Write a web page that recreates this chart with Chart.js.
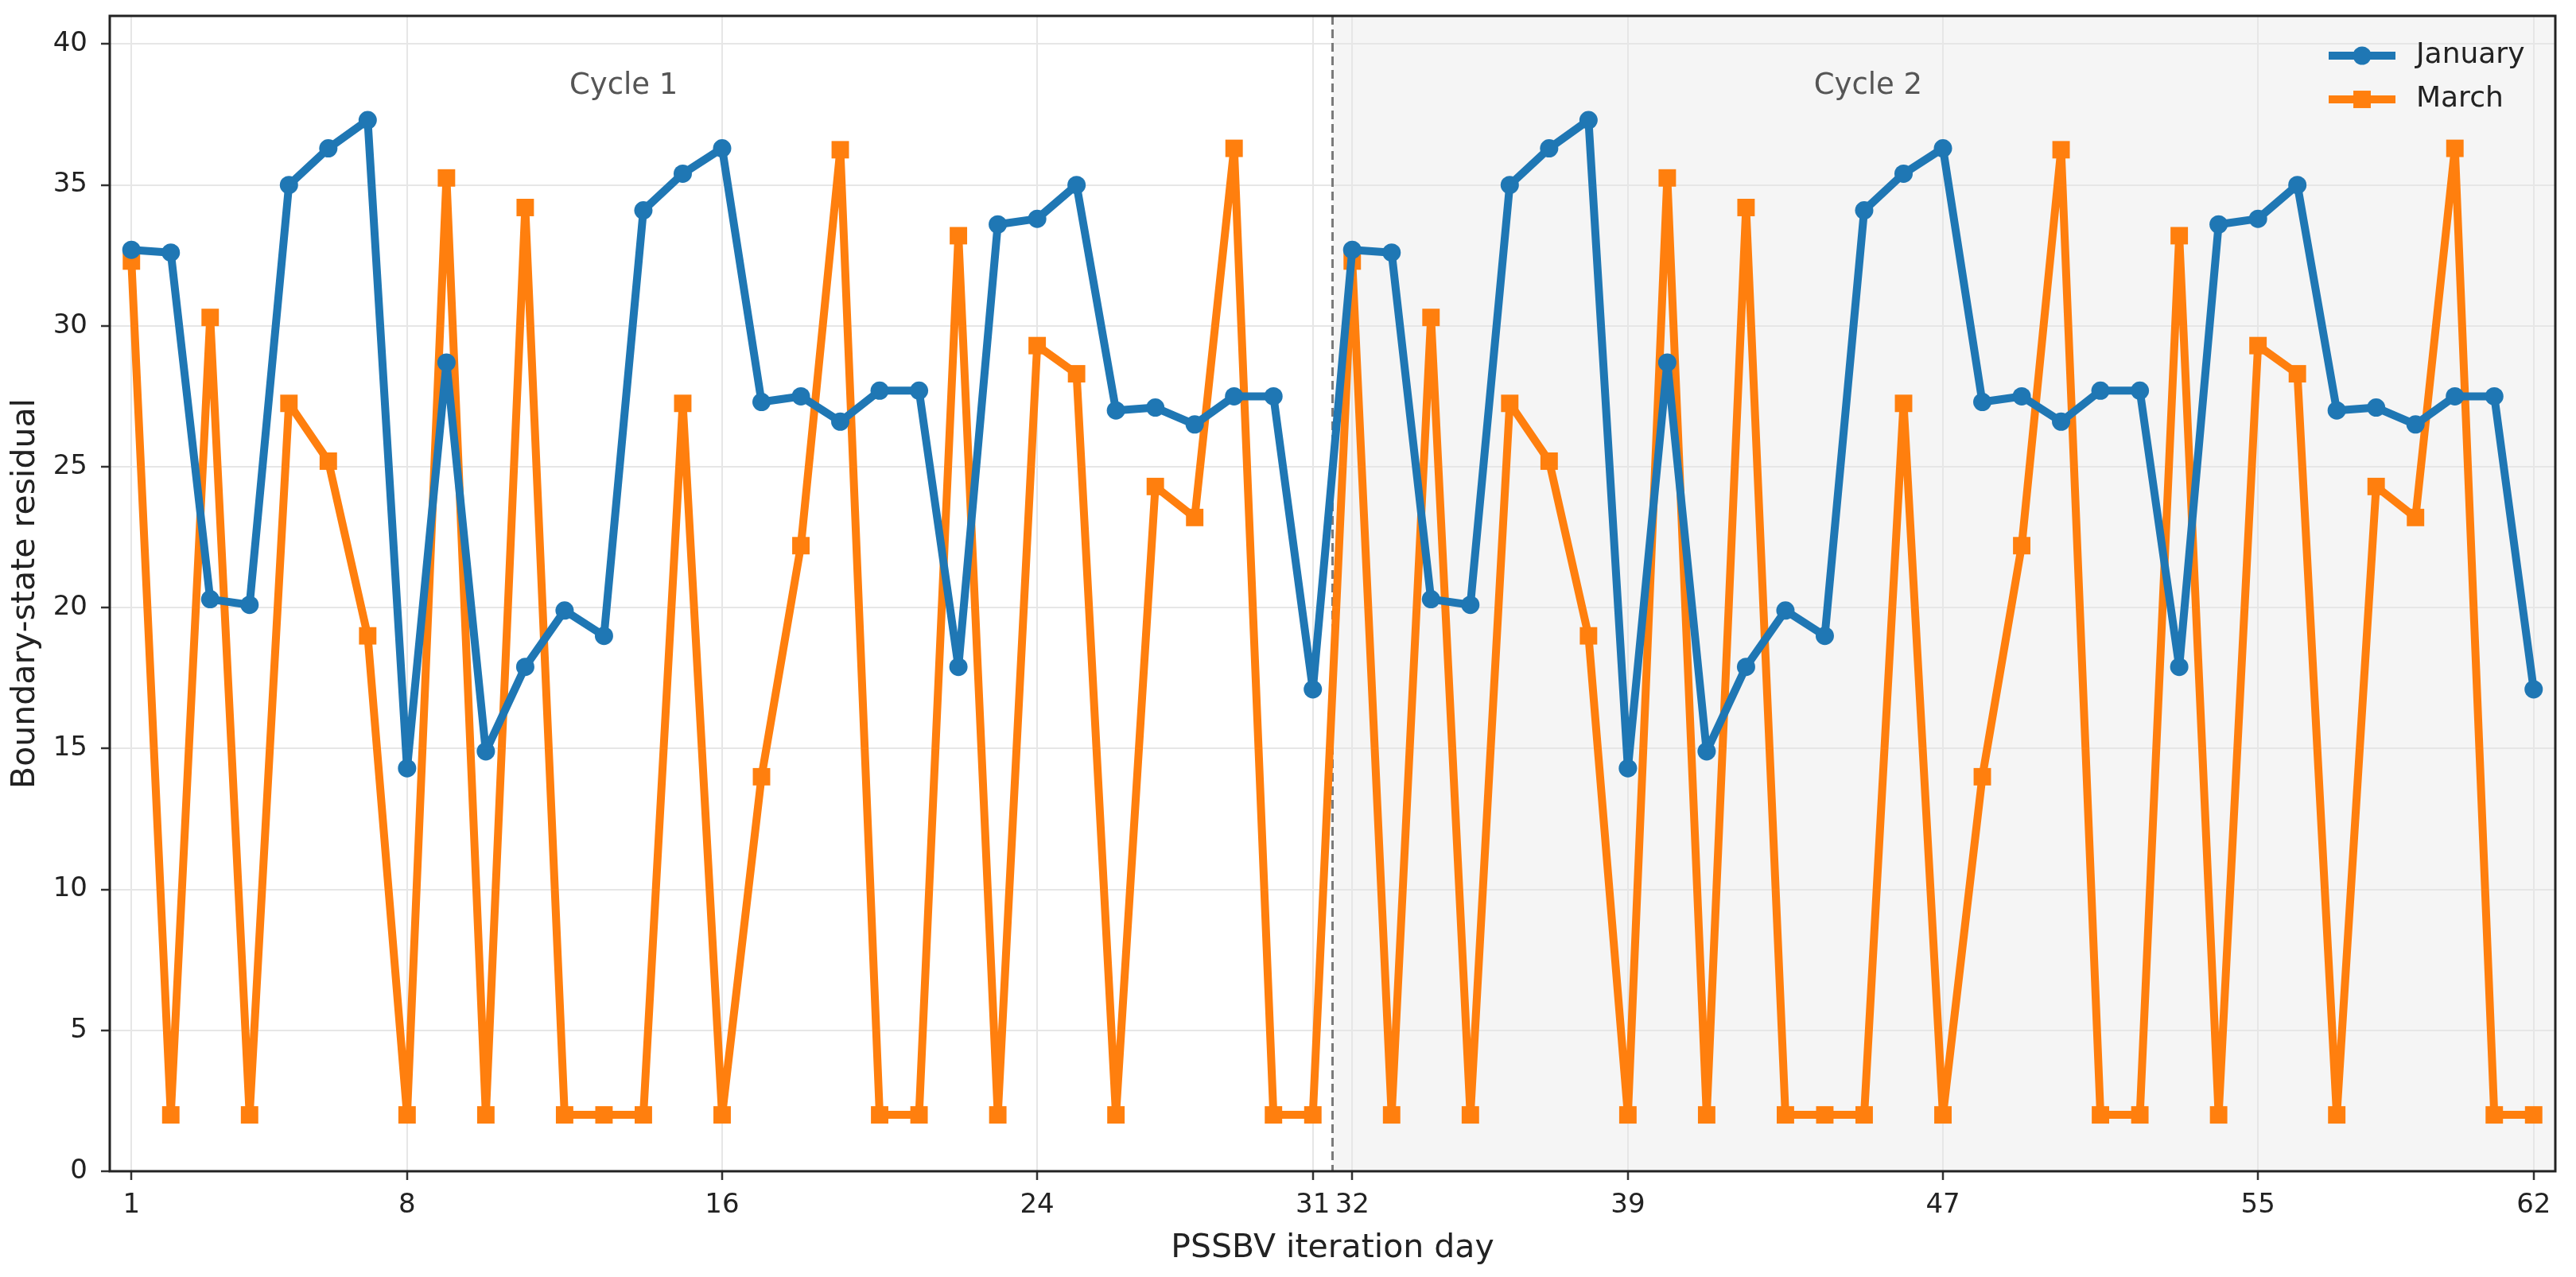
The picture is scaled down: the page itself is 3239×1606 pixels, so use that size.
<!DOCTYPE html>
<html>
<head>
<meta charset="utf-8">
<script src="https://cdn.jsdelivr.net/npm/chart.js@4.4.1/dist/chart.umd.min.js"></script>
<style>
  html, body { margin: 0; padding: 0; background: #fff; }
  #wrap { width: 3239px; height: 1606px; }
</style>
</head>
<body>
<div id="wrap"><canvas id="residualChart" width="3239" height="1606"></canvas></div>
<script>
// iteration days, two cycles of 31
const days = [1, 2, 3, 4, 5, 6, 7, 8, 9, 10, 11, 12, 13, 14, 15, 16, 17, 18, 19, 20, 21, 22, 23, 24, 25, 26, 27, 28, 29, 30, 31,
              32, 33, 34, 35, 36, 37, 38, 39, 40, 41, 42, 43, 44, 45, 46, 47, 48, 49, 50, 51, 52, 53, 54, 55, 56, 57, 58, 59, 60, 61, 62];

const january = [32.7, 32.6, 20.3, 20.1, 35.0, 36.3, 37.3, 14.3, 28.7, 14.9, 17.9, 19.9, 19.0, 34.1, 35.4, 36.3,
                 27.3, 27.5, 26.6, 27.7, 27.7, 17.9, 33.6, 33.8, 35.0, 27.0, 27.1, 26.5, 27.5, 27.5, 17.1,
                 32.7, 32.6, 20.3, 20.1, 35.0, 36.3, 37.3, 14.3, 28.7, 14.9, 17.9, 19.9, 19.0, 34.1, 35.4, 36.3,
                 27.3, 27.5, 26.6, 27.7, 27.7, 17.9, 33.6, 33.8, 35.0, 27.0, 27.1, 26.5, 27.5, 27.5, 17.1];

const march = [32.3, 2.0, 30.3, 2.0, 27.25, 25.2, 19.0, 2.0, 35.25, 2.0, 34.2, 2.0, 2.0, 2.0, 27.25, 2.0,
               14.0, 22.2, 36.25, 2.0, 2.0, 33.2, 2.0, 29.3, 28.3, 2.0, 24.3, 23.2, 36.3, 2.0, 2.0,
               32.3, 2.0, 30.3, 2.0, 27.25, 25.2, 19.0, 2.0, 35.25, 2.0, 34.2, 2.0, 2.0, 2.0, 27.25, 2.0,
               14.0, 22.2, 36.25, 2.0, 2.0, 33.2, 2.0, 29.3, 28.3, 2.0, 24.3, 23.2, 36.3, 2.0, 2.0];

const xTicks = [1, 8, 16, 24, 31, 32, 39, 47, 55, 62];
const yTicks = [0, 5, 10, 15, 20, 25, 30, 35, 40];

const cycleNames = ['Cycle 1', 'Cycle 2'];
const cycleNameX = [13.5, 45.1];
const cycleNameY = 38.5;
const cycleSplit = 31.5;

const FONT = "'DejaVu Sans', 'Liberation Sans', sans-serif";

// grey band behind the second cycle, under the grid
const shadePlugin = {
  id: 'shade',
  beforeDraw(chart) {
    const { ctx, chartArea: a, scales: { x } } = chart;
    const x0 = x.getPixelForValue(cycleSplit);
    ctx.save();
    ctx.fillStyle = '#f5f5f5';
    ctx.fillRect(x0, a.top, a.right - x0, a.bottom - a.top);
    ctx.restore();
  }
};

// dashed divider and cycle captions
const cyclePlugin = {
  id: 'cycles',
  beforeDatasetsDraw(chart) {
    const { ctx, chartArea: a, scales: { x, y } } = chart;
    const xs = x.getPixelForValue(cycleSplit);
    ctx.save();
    ctx.strokeStyle = '#7a7a7a';
    ctx.lineWidth = 3;
    ctx.setLineDash([11, 6]);
    ctx.beginPath();
    ctx.moveTo(xs, a.top);
    ctx.lineTo(xs, a.bottom);
    ctx.stroke();
    ctx.setLineDash([]);
    ctx.fillStyle = '#555555';
    ctx.font = '37px ' + FONT;
    ctx.textAlign = 'center';
    ctx.textBaseline = 'middle';
    cycleNames.forEach((t, i) => {
      ctx.fillText(t, x.getPixelForValue(cycleNameX[i]), y.getPixelForValue(cycleNameY));
    });
    ctx.restore();
  }
};

// box frame and legend inside the upper right corner
const framePlugin = {
  id: 'frame',
  afterDatasetsDraw(chart) {
    const { ctx, chartArea: a } = chart;
    ctx.save();
    ctx.strokeStyle = '#222222';
    ctx.lineWidth = 3;
    ctx.strokeRect(a.left, a.top, a.right - a.left, a.bottom - a.top);

    chart.data.datasets.forEach((ds, i) => {
      const cy = a.top + 50 + i * 55;
      const lx0 = a.right - 285;
      const lx1 = a.right - 201;
      const cx = (lx0 + lx1) / 2;
      ctx.strokeStyle = ds.borderColor;
      ctx.lineWidth = ds.borderWidth;
      ctx.beginPath();
      ctx.moveTo(lx0, cy);
      ctx.lineTo(lx1, cy);
      ctx.stroke();
      ctx.fillStyle = ds.pointBackgroundColor;
      ctx.beginPath();
      if (ds.pointStyle === 'rect') {
        const s = ds.pointRadius * Math.SQRT1_2;
        ctx.rect(cx - s, cy - s, 2 * s, 2 * s);
      } else {
        ctx.arc(cx, cy, ds.pointRadius, 0, Math.PI * 2);
      }
      ctx.fill();
      ctx.fillStyle = '#222222';
      ctx.font = '36px ' + FONT;
      ctx.textAlign = 'left';
      ctx.textBaseline = 'middle';
      ctx.fillText(ds.label, a.right - 175, cy);
    });
    ctx.restore();
  }
};

const ctx = document.getElementById('residualChart');

new Chart(ctx, {
  type: 'line',
  data: {
    datasets: [{
      label: 'January',
      data: days.map((d, i) => ({ x: d, y: january[i] })),
      borderColor: '#1f77b4',
      backgroundColor: '#1f77b4',
      pointBackgroundColor: '#1f77b4',
      borderWidth: 10,
      borderJoinStyle: 'round',
      pointStyle: 'circle',
      pointRadius: 11.5,
      pointBorderWidth: 0,
      tension: 0
    }, {
      label: 'March',
      data: days.map((d, i) => ({ x: d, y: march[i] })),
      borderColor: '#ff7f0e',
      backgroundColor: '#ff7f0e',
      pointBackgroundColor: '#ff7f0e',
      borderWidth: 10,
      borderJoinStyle: 'round',
      pointStyle: 'rect',
      pointRadius: 15.5,
      pointBorderWidth: 0,
      tension: 0
    }]
  },
  options: {
    responsive: false,
    devicePixelRatio: 1,
    animation: false,
    layout: { padding: { top: 20, right: 26, left: 0, bottom: 0 } },
    plugins: {
      legend: { display: false },
      tooltip: { enabled: false }
    },
    scales: {
      x: {
        type: 'linear',
        min: 0.45,
        max: 62.55,
        afterBuildTicks: axis => { axis.ticks = xTicks.map(v => ({ value: v })); },
        afterFit: axis => { axis.height = 133; axis.paddingLeft = 0; axis.paddingRight = 0; },
        border: { display: false },
        grid: { color: '#e6e6e6', lineWidth: 2, tickColor: '#333333', tickWidth: 2.5, tickLength: 11 },
        ticks: { font: { family: FONT, size: 34 }, color: '#222222', padding: 12, maxRotation: 0, autoSkip: false },
        title: { display: true, text: 'PSSBV iteration day', color: '#222222',
                 font: { family: FONT, size: 41 }, padding: { top: 0, bottom: 11 } }
      },
      y: {
        min: 0,
        max: 41,
        afterBuildTicks: axis => { axis.ticks = yTicks.map(v => ({ value: v })); },
        afterFit: axis => { axis.width = 138; axis.paddingTop = 0; axis.paddingBottom = 0; },
        border: { display: false },
        grid: { color: '#e6e6e6', lineWidth: 2, tickColor: '#333333', tickWidth: 2.5, tickLength: 11 },
        ticks: { font: { family: FONT, size: 34 }, color: '#222222', padding: 17 },
        title: { display: true, text: 'Boundary-state residual', color: '#222222',
                 font: { family: FONT, size: 41 }, padding: { top: 8, bottom: 0 } }
      }
    }
  },
  plugins: [shadePlugin, cyclePlugin, framePlugin]
});
</script>
</body>
</html>
